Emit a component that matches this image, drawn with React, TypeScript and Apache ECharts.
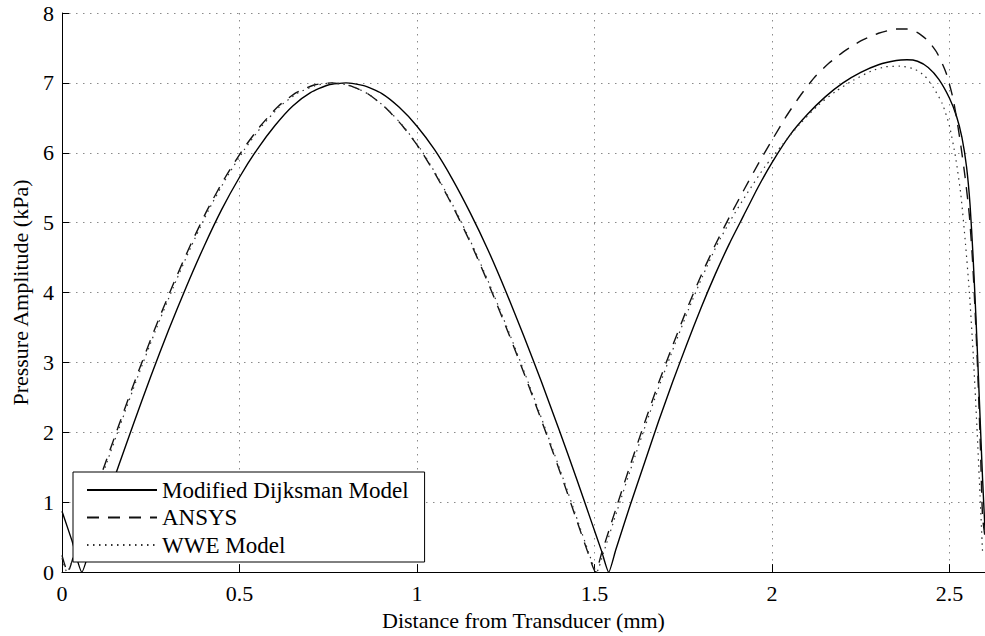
import React, { useEffect, useRef } from "react";
import * as echarts from "echarts";

const xTicks = { min: 0, max: 2.6, interval: 0.5 };
const yTicks = { min: 0, max: 8, interval: 1 };

const seriesNames = ["Modified Dijksman Model", "ANSYS", "WWE Model"];

const dijksman: [number, number][] = [
  [0, 0.87], [0.028, 0.45], [0.056, 0], [0.08, 0.36], [0.12, 0.95], [0.16, 1.53],
  [0.2, 2.1], [0.25, 2.8], [0.3, 3.46], [0.35, 4.08], [0.4, 4.66], [0.45, 5.19],
  [0.5, 5.65], [0.55, 6.05], [0.6, 6.39], [0.65, 6.67], [0.7, 6.86], [0.75, 6.97],
  [0.8, 7.0], [0.85, 6.96], [0.9, 6.85], [0.95, 6.65], [1.0, 6.38], [1.05, 6.04],
  [1.1, 5.62], [1.15, 5.14], [1.2, 4.61], [1.25, 4.02], [1.3, 3.39], [1.35, 2.73],
  [1.4, 2.04], [1.45, 1.33], [1.49, 0.74], [1.52, 0.3], [1.54, 0],
  [1.56, 0.32], [1.6, 0.95], [1.64, 1.55], [1.68, 2.15], [1.72, 2.72], [1.76, 3.26],
  [1.8, 3.78], [1.84, 4.26], [1.88, 4.7], [1.92, 5.1], [1.96, 5.5], [2.0, 5.86],
  [2.05, 6.25], [2.1, 6.55], [2.15, 6.8], [2.2, 7.0], [2.25, 7.15], [2.3, 7.26],
  [2.35, 7.32], [2.38, 7.33], [2.41, 7.31], [2.44, 7.22], [2.47, 7.05], [2.5, 6.78],
  [2.52, 6.52], [2.535, 6.22], [2.548, 5.8], [2.558, 5.25], [2.566, 4.55], [2.574, 3.7],
  [2.581, 2.85], [2.587, 2.1], [2.593, 1.35], [2.6, 0.6],
];

const ansys: [number, number][] = [
  [0, 0.24], [0.016, 0], [0.04, 0.36], [0.08, 0.95], [0.12, 1.53], [0.16, 2.1],
  [0.21, 2.8], [0.26, 3.46], [0.31, 4.08], [0.36, 4.66], [0.41, 5.19], [0.46, 5.65],
  [0.51, 6.05], [0.56, 6.39], [0.61, 6.67], [0.66, 6.86], [0.71, 6.97], [0.76, 7.0],
  [0.81, 6.96], [0.86, 6.85], [0.91, 6.65], [0.96, 6.38], [1.01, 6.04], [1.06, 5.62],
  [1.11, 5.14], [1.16, 4.61], [1.21, 4.02], [1.26, 3.39], [1.31, 2.73], [1.36, 2.04],
  [1.41, 1.33], [1.45, 0.74], [1.48, 0.3], [1.503, 0],
  [1.52, 0.27], [1.56, 0.9], [1.6, 1.52], [1.64, 2.12], [1.68, 2.7], [1.72, 3.24],
  [1.76, 3.76], [1.8, 4.24], [1.84, 4.68], [1.88, 5.08], [1.92, 5.46], [1.96, 5.83],
  [2.0, 6.18], [2.04, 6.52], [2.08, 6.82], [2.12, 7.08], [2.16, 7.28], [2.2, 7.44],
  [2.25, 7.6], [2.3, 7.71], [2.35, 7.77], [2.38, 7.77], [2.41, 7.72], [2.44, 7.6],
  [2.466, 7.42], [2.49, 7.15], [2.508, 6.82], [2.52, 6.5], [2.532, 6.1], [2.544, 5.65],
  [2.556, 5.1], [2.565, 4.45], [2.572, 3.75], [2.579, 2.94], [2.587, 1.8], [2.593, 0.8],
  [2.6, 0.5],
];

const wwe: [number, number][] = [
  [0, 0.2], [0.014, 0], [0.043, 0.37], [0.083, 0.95], [0.123, 1.52], [0.163, 2.09],
  [0.213, 2.79], [0.263, 3.45], [0.313, 4.07], [0.363, 4.65], [0.413, 5.18], [0.463, 5.64],
  [0.513, 6.04], [0.563, 6.38], [0.613, 6.66], [0.663, 6.85], [0.713, 6.96], [0.763, 7.0],
  [0.813, 6.96], [0.863, 6.84], [0.913, 6.64], [0.963, 6.37], [1.013, 6.03], [1.063, 5.61],
  [1.113, 5.13], [1.163, 4.6], [1.213, 4.01], [1.263, 3.38], [1.313, 2.72], [1.363, 2.03],
  [1.413, 1.32], [1.453, 0.73], [1.483, 0.29], [1.506, 0],
  [1.525, 0.27], [1.565, 0.9], [1.605, 1.52], [1.645, 2.12], [1.685, 2.7], [1.725, 3.24],
  [1.765, 3.76], [1.805, 4.24], [1.845, 4.68], [1.885, 5.05], [1.93, 5.42], [1.98, 5.8],
  [2.03, 6.12], [2.08, 6.42], [2.13, 6.68], [2.18, 6.88], [2.23, 7.04], [2.28, 7.17],
  [2.32, 7.23], [2.36, 7.24], [2.4, 7.2], [2.43, 7.1], [2.455, 6.93], [2.48, 6.7],
  [2.5, 6.38], [2.517, 5.94], [2.532, 5.4], [2.545, 4.7], [2.556, 4.0], [2.567, 3.1],
  [2.577, 2.1], [2.586, 1.1], [2.593, 0.3],
];

const FONT = "Liberation Serif";

export default function App() {
  const ref = useRef<HTMLDivElement>(null);
  useEffect(() => {
    if (!ref.current) return;
    const chart = echarts.init(ref.current, undefined, { renderer: "svg" });
    const gridLine = { show: true, lineStyle: { color: "#8a8a8a", type: [1.5, 5.5] as any, width: 1 } };
    chart.setOption({
      animation: false,
      backgroundColor: "#ffffff",
      textStyle: { fontFamily: FONT, color: "#000" },
      grid: { left: 62, top: 13, width: 926, height: 560, containLabel: false },
      legend: {
        orient: "vertical",
        left: 73,
        top: 472,
        z: 10,
        backgroundColor: "#ffffff",
        borderColor: "#000000",
        borderWidth: 1,
        padding: [6, 16, 5, 13],
        itemWidth: 70,
        itemHeight: 14,
        itemGap: 3.5,
        itemStyle: { opacity: 0 },
        textStyle: { color: "#000", fontFamily: FONT, fontSize: 23, lineHeight: 24 },
        data: seriesNames,
      },
      xAxis: {
        type: "value",
        min: xTicks.min,
        max: xTicks.max,
        interval: xTicks.interval,
        name: "Distance from Transducer (mm)",
        nameLocation: "middle",
        nameGap: 33,
        nameTextStyle: { color: "#000", fontFamily: FONT, fontSize: 22 },
        axisLine: { show: true, onZero: false, lineStyle: { color: "#000", width: 1 } },
        axisTick: { show: true, inside: true, length: 8, lineStyle: { color: "#000" } },
        axisLabel: { color: "#000", fontFamily: FONT, fontSize: 22, margin: 10, showMaxLabel: false },
        splitLine: gridLine,
      },
      yAxis: {
        type: "value",
        min: yTicks.min,
        max: yTicks.max,
        interval: yTicks.interval,
        name: "Pressure Amplitude (kPa)",
        nameLocation: "middle",
        nameGap: 31,
        nameTextStyle: { color: "#000", fontFamily: FONT, fontSize: 22 },
        axisLine: { show: true, onZero: false, lineStyle: { color: "#000", width: 1 } },
        axisTick: { show: true, inside: true, length: 7, lineStyle: { color: "#000" } },
        axisLabel: { color: "#000", fontFamily: FONT, fontSize: 22, margin: 8 },
        splitLine: gridLine,
      },
      series: [
        {
          name: seriesNames[0],
          type: "line",
          data: dijksman,
          symbol: "none",
          smooth: 0.2,
          lineStyle: { color: "#000", width: 1.4, type: "solid" },
          itemStyle: { color: "#000" },
        },
        {
          name: seriesNames[1],
          type: "line",
          data: ansys,
          symbol: "none",
          smooth: 0.2,
          lineStyle: { color: "#111", width: 1.4, type: [12, 9] },
          itemStyle: { color: "#000" },
        },
        {
          name: seriesNames[2],
          type: "line",
          data: wwe,
          symbol: "none",
          smooth: 0.2,
          lineStyle: { color: "#333", width: 1.2, type: [1.5, 4.5] },
          itemStyle: { color: "#000" },
        },
      ],
    });
    return () => chart.dispose();
  }, []);
  return (
    <div
      ref={ref}
      style={{ position: "fixed", left: 0, top: 0, width: 985, height: 636, background: "#fff" }}
    />
  );
}
